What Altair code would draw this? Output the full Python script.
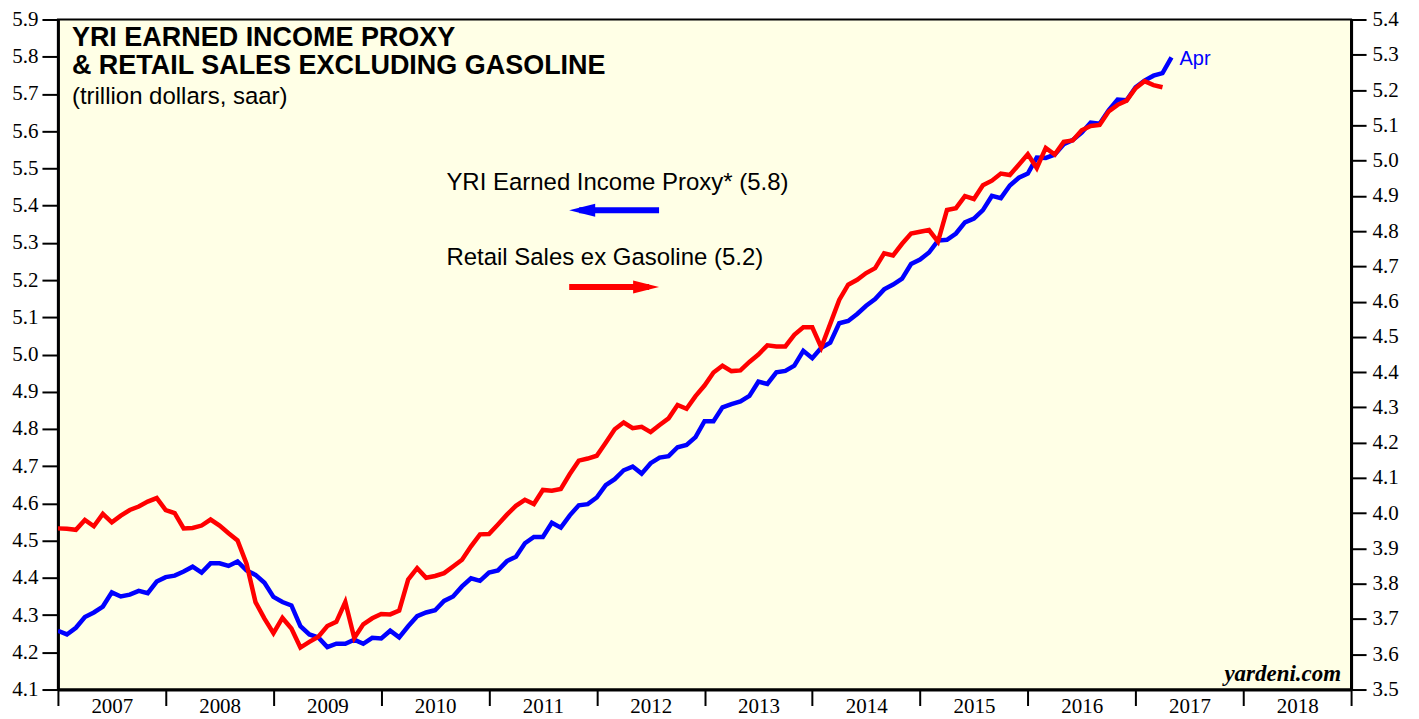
import altair as alt
import pandas as pd

# ---------------- data (trillion dollars, saar), month-end values ----------------
income_months = [str(p) for p in pd.period_range("2006-12", "2017-04", freq="M")]
income = [
    4.258, 4.248, 4.266, 4.295, 4.307, 4.323, 4.361, 4.350, 4.355, 4.365, 4.359, 4.390,
    4.402, 4.406, 4.417, 4.430, 4.414, 4.439, 4.439, 4.432, 4.444, 4.420, 4.408, 4.387,
    4.349, 4.335, 4.326, 4.270, 4.248, 4.240, 4.214, 4.223, 4.223, 4.234, 4.223, 4.239,
    4.237, 4.258, 4.240, 4.270, 4.297, 4.307, 4.313, 4.338, 4.350, 4.377, 4.399, 4.392,
    4.414, 4.420, 4.445, 4.457, 4.493, 4.510, 4.510, 4.548, 4.535, 4.568, 4.595, 4.598,
    4.616, 4.649, 4.665, 4.689, 4.699, 4.680, 4.708, 4.723, 4.727, 4.751, 4.757, 4.778,
    4.821, 4.821, 4.858, 4.867, 4.874, 4.889, 4.927, 4.921, 4.952, 4.956, 4.970, 5.010,
    4.990, 5.018, 5.032, 5.084, 5.090, 5.109, 5.131, 5.149, 5.175, 5.188, 5.204, 5.243,
    5.255, 5.274, 5.306, 5.308, 5.325, 5.355, 5.365, 5.388, 5.426, 5.420, 5.454, 5.475,
    5.486, 5.529, 5.528, 5.537, 5.565, 5.576, 5.596, 5.623, 5.620, 5.656, 5.685, 5.683,
    5.718, 5.736, 5.749, 5.756, 5.798,
]

retail_months = [str(p) for p in pd.period_range("2006-12", "2017-03", freq="M")]
retail = [
    3.957, 3.956, 3.953, 3.981, 3.963, 3.998, 3.974, 3.993, 4.009, 4.019, 4.033, 4.043,
    4.009, 4.000, 3.957, 3.958, 3.965, 3.982, 3.965, 3.943, 3.923, 3.857, 3.748, 3.701,
    3.660, 3.703, 3.673, 3.619, 3.635, 3.650, 3.680, 3.692, 3.748, 3.646, 3.685, 3.702,
    3.714, 3.713, 3.724, 3.812, 3.844, 3.817, 3.822, 3.830, 3.849, 3.868, 3.906, 3.940,
    3.941, 3.968, 3.996, 4.021, 4.038, 4.026, 4.066, 4.064, 4.069, 4.111, 4.149, 4.155,
    4.163, 4.200, 4.238, 4.257, 4.241, 4.245, 4.230, 4.250, 4.269, 4.307, 4.296, 4.332,
    4.362, 4.399, 4.418, 4.403, 4.405, 4.429, 4.450, 4.476, 4.473, 4.473, 4.506, 4.527,
    4.527, 4.470, 4.537, 4.605, 4.648, 4.662, 4.681, 4.695, 4.737, 4.731, 4.764, 4.793,
    4.798, 4.803, 4.770, 4.860, 4.865, 4.899, 4.891, 4.930, 4.943, 4.963, 4.959, 4.988,
    5.018, 4.979, 5.036, 5.017, 5.053, 5.057, 5.086, 5.098, 5.101, 5.139, 5.158, 5.170,
    5.205, 5.225, 5.214, 5.208,
]

years = list(range(2007, 2020))
left_ticks = [round(4.1 + 0.1 * i, 1) for i in range(19)]
right_ticks = [round(3.5 + 0.1 * i, 1) for i in range(20)]


def month_end_pos(m):
    y, mo = m.split("-")
    return int(y) + int(mo) / 12.0


df_inc = pd.DataFrame({"t": [month_end_pos(m) for m in income_months], "v": income, "month": income_months})
df_ret = pd.DataFrame({"t": [month_end_pos(m) for m in retail_months], "v": retail, "month": retail_months})

W, H = 1295, 671
BLUE, RED = "#0000FF", "#FF0000"
SERIF, SANS = "Liberation Serif", "Liberation Sans"

x_scale = alt.Scale(domain=[2007, 2019], nice=False, zero=False)
yl_scale = alt.Scale(domain=[4.1, 5.9], nice=False, zero=False)
yr_scale = alt.Scale(domain=[3.5, 5.4], nice=False, zero=False)

x_axis = alt.Axis(
    values=years, format="d", labelExpr="datum.value >= 2019 ? '' : datum.label",
    labelOffset=54, labelPadding=-10, tickSize=16, tickWidth=2, tickColor="black",
    domainWidth=3, domainColor="black", labelFont=SERIF, labelFontSize=21,
    labelColor="black", labelOverlap=False, labelFlush=False, grid=False, title=None,
)
yl_axis = alt.Axis(
    orient="left", values=left_ticks, format=".1f", tickSize=16, tickWidth=2,
    tickColor="black", domainWidth=3, domainColor="black", labelFont=SERIF,
    labelFontSize=21, labelColor="black", labelPadding=4, grid=False, title=None,
)
yr_axis = alt.Axis(
    orient="right", values=right_ticks, format=".1f", tickSize=15, tickWidth=2,
    tickColor="black", domainWidth=3, domainColor="black", labelFont=SERIF,
    labelFontSize=21, labelColor="black", labelPadding=6, grid=False, title=None,
)

blue = alt.Chart(df_inc).mark_line(color=BLUE, strokeWidth=4.5, clip=True).encode(
    x=alt.X("t:Q", scale=x_scale, axis=x_axis),
    y=alt.Y("v:Q", scale=yl_scale, axis=yl_axis),
)
red = alt.Chart(df_ret).mark_line(color=RED, strokeWidth=4.5, clip=True).encode(
    x=alt.X("t:Q", scale=x_scale, axis=x_axis),
    y=alt.Y("v:Q", scale=yr_scale, axis=yr_axis),
)

# "Apr" label next to last income point
last = df_inc.tail(1).assign(lbl="Apr")
apr = alt.Chart(last).mark_text(
    align="left", baseline="middle", dx=8, dy=2, font=SANS, fontSize=20, color=BLUE
).encode(
    x=alt.X("t:Q", scale=x_scale, axis=x_axis),
    y=alt.Y("v:Q", scale=yl_scale, axis=None),
    text="lbl:N",
)


def txt(s, x, y, size, weight="normal", style="normal", font=SANS, align="left", color="black"):
    return alt.Chart(pd.DataFrame({"s": [s]})).mark_text(
        align=align, baseline="alphabetic", font=font, fontSize=size,
        fontWeight=weight, fontStyle=style, color=color,
    ).encode(x=alt.value(x), y=alt.value(y), text="s:N")


title1 = txt("YRI EARNED INCOME PROXY", 14, 27, 27, weight="bold")
title2 = txt("& RETAIL SALES EXCLUDING GASOLINE", 14, 55, 27, weight="bold")
subtitle = txt("(trillion dollars, saar)", 14, 85, 24)
leg1 = txt("YRI Earned Income Proxy* (5.8)", 389, 171, 24)
leg2 = txt("Retail Sales ex Gasoline (5.2)", 389, 246, 24)
credit = txt("yardeni.com", 1285, 662, 23, weight="bold", style="italic", font=SERIF, align="right")

one = pd.DataFrame({"k": [0]})
blue_shaft = alt.Chart(one).mark_rule(color=BLUE, strokeWidth=6).encode(
    x=alt.value(522), x2=alt.value(602), y=alt.value(191)
)
blue_head = alt.Chart(one).mark_point(
    shape="M1,-0.5L-1,0L1,0.5Z", filled=True, color=BLUE, opacity=1, size=676, strokeWidth=0
).encode(x=alt.value(525), y=alt.value(191))
red_shaft = alt.Chart(one).mark_rule(color=RED, strokeWidth=6).encode(
    x=alt.value(512), x2=alt.value(592), y=alt.value(268)
)
red_head = alt.Chart(one).mark_point(
    shape="M-1,-0.5L1,0L-1,0.5Z", filled=True, color=RED, opacity=1, size=676, strokeWidth=0
).encode(x=alt.value(589), y=alt.value(268))

chart = alt.layer(
    blue, red, apr, title1, title2, subtitle, leg1, leg2,
    blue_shaft, blue_head, red_shaft, red_head, credit,
).resolve_scale(y="independent").properties(
    width=W, height=H,
    autosize=alt.AutoSizeParams(type="none"),
    padding={"left": 50, "top": 11, "right": 60, "bottom": 28},
).configure_view(
    stroke="black", strokeWidth=2, fill="#FFFFE6"
)

chart.save("out.html", embed_options={"renderer": "svg", "actions": False})
